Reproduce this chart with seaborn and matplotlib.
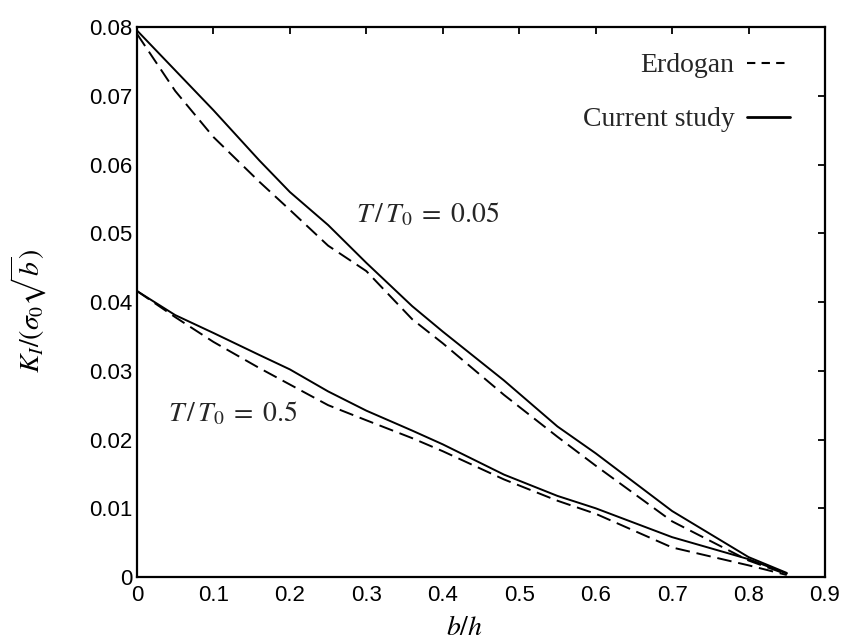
import numpy as np
import pandas as pd
import matplotlib
matplotlib.use("Agg")
import matplotlib.pyplot as plt
from matplotlib.lines import Line2D
import seaborn as sns

# ---- data ----
x_pts = [0.0, 0.05, 0.1, 0.16, 0.2, 0.25, 0.3, 0.36, 0.4, 0.48, 0.55, 0.6, 0.7, 0.8, 0.85]

cur_005 = [0.0795, 0.0737, 0.0679, 0.0606, 0.0560, 0.0512, 0.0457, 0.0394, 0.0357,
           0.0286, 0.0219, 0.0180, 0.0096, 0.0029, 0.0006]
erd_005 = [0.0790, 0.0707, 0.0640, 0.0575, 0.0534, 0.0482, 0.0445, 0.0375, 0.0340,
           0.0265, 0.0204, 0.0162, 0.0081, 0.0024, 0.0004]

cur_05 = [0.0416, 0.0381, 0.0355, 0.0323, 0.0302, 0.0270, 0.0242, 0.0213, 0.0193,
          0.0149, 0.0118, 0.0100, 0.0058, 0.0026, 0.0005]
erd_05 = [0.0416, 0.0378, 0.0342, 0.0304, 0.0280, 0.0250, 0.0228, 0.0202, 0.0183,
          0.0142, 0.0111, 0.0092, 0.0043, 0.0017, 0.0003]

x_ticks = [0, 0.1, 0.2, 0.3, 0.4, 0.5, 0.6, 0.7, 0.8, 0.9]
x_tick_labels = ["0", "0.1", "0.2", "0.3", "0.4", "0.5", "0.6", "0.7", "0.8", "0.9"]
y_ticks = [0, 0.01, 0.02, 0.03, 0.04, 0.05, 0.06, 0.07, 0.08]
y_tick_labels = ["0", "0.01", "0.02", "0.03", "0.04", "0.05", "0.06", "0.07", "0.08"]

rows = []
for case, method, ys in [("0.05", "Current study", cur_005), ("0.05", "Erdogan", erd_005),
                         ("0.5", "Current study", cur_05), ("0.5", "Erdogan", erd_05)]:
    for xv, yv in zip(x_pts, ys):
        rows.append({"b/h": xv, "K": yv, "method": method, "unit": case + method})
df = pd.DataFrame(rows)

sns.set_theme(style="white")
plt.rcParams["mathtext.fontset"] = "stix"
plt.rcParams["font.family"] = ["Liberation Sans", "DejaVu Sans"]

fig = plt.figure(figsize=(8.42, 6.42), dpi=100)
ax = fig.add_axes([0.1627, 0.1012, 0.8171, 0.8567])

sns.lineplot(data=df, x="b/h", y="K", style="method", units="unit", estimator=None,
             color="black", linewidth=1.4,
             dashes={"Current study": "", "Erdogan": (7.5, 3.5)},
             style_order=["Erdogan", "Current study"], legend=False, ax=ax)

ax.set_xlim(0, 0.9)
ax.set_ylim(0, 0.08)
ax.set_xticks(x_ticks)
ax.set_xticklabels(x_tick_labels)
ax.set_yticks(y_ticks)
ax.set_yticklabels(y_tick_labels)
ax.tick_params(direction="in", length=5, width=1.3, top=True, right=True,
               labelsize=16, colors="black",
               labeltop=False, labelright=False)
ax.tick_params(axis="x", pad=6)
ax.tick_params(axis="y", pad=3)
for s in ax.spines.values():
    s.set_color("black")
    s.set_linewidth(1.6)

ax.set_xlabel(r"$b/h$", fontsize=20, color="black")
ax.xaxis.set_label_coords((464 - 137) / 688, -(615 - 577) / 550)
ax.xaxis.label.set_va("top")
ax.set_ylabel(r"$K_I/(\sigma_0\sqrt{b})$", fontsize=20, color="black")
ax.yaxis.set_label_coords(-(137 - 29) / 688, (577 - 311) / 550)
ax.yaxis.label.set_va("center")

ax.text(0.287, 0.0527, r"$T\,/\,T_0\;=\;0.05$", fontsize=20, va="center", ha="left")
ax.text(0.041, 0.0238, r"$T\,/\,T_0\;=\;0.5$", fontsize=20, va="center", ha="left")

handles = [Line2D([], [], color="black", lw=1.5, dashes=(4, 3)),
           Line2D([], [], color="black", lw=2.0)]
leg = ax.legend(handles, ["Erdogan", "Current study"], loc="upper right",
                bbox_to_anchor=((790 - 137) / 688, (577 - 53) / 550), frameon=False,
                markerfirst=False, borderpad=0, borderaxespad=0,
                handlelength=1.55, handletextpad=0.45, labelspacing=1.02,
                prop={"family": "Liberation Serif", "size": 20})

fig.savefig("out.png", dpi=100)
